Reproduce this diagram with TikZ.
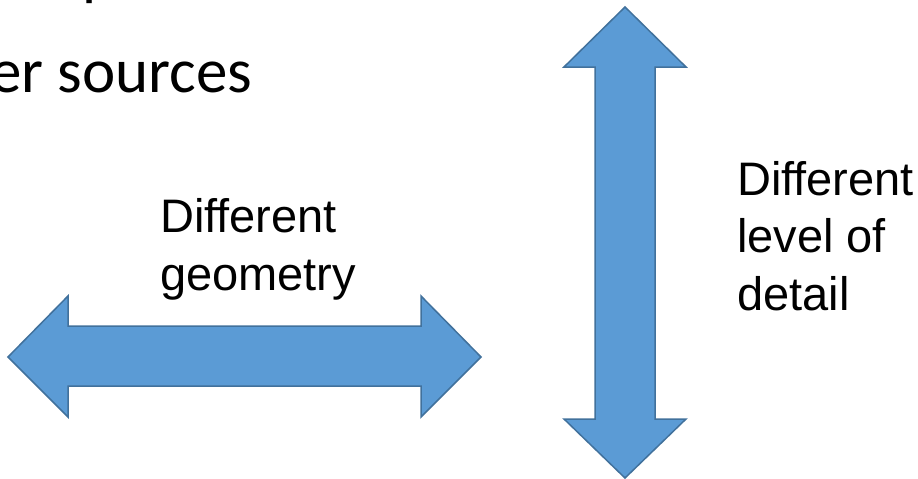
\documentclass[tikz,border=0pt]{standalone}
\usepackage{fontspec}
\setmainfont{Liberation Sans}
\newfontfamily\calib{Carlito}
\definecolor{arrowfill}{HTML}{5B9BD5}
\definecolor{arrowedge}{HTML}{41719C}
\begin{document}
\begin{tikzpicture}[x=1pt,y=-1pt,
  bigarrow/.style={fill=arrowfill,draw=arrowedge,line width=1.5pt,line join=miter},
  lbl/.style={anchor=base west,inner sep=0pt,font=\fontsize{47}{57}\selectfont},
  slidetext/.style={anchor=base west,inner sep=0pt,font=\calib\fontsize{63}{76}\selectfont}]
\fill[white] (0,0) rectangle (918,479);
\clip (0,0) rectangle (918,479);
\useasboundingbox (0,0) rectangle (918,479);
% horizontal double arrow
\draw[bigarrow] (8,357) -- (68,296) -- (68,326) -- (421,326) -- (421,296) -- (481,357)
  -- (421,417) -- (421,386) -- (68,386) -- (68,417) -- cycle;
% vertical double arrow
\draw[bigarrow] (625,7) -- (686,67) -- (655,67) -- (655,419) -- (686,419) -- (625,478)
  -- (564,419) -- (595,419) -- (595,67) -- (564,67) -- cycle;
% labels
\node[lbl] (g1) at (160,232) {Different};
\node[lbl] (g2) at (160,290) {geometry};
\node[lbl] (d1) at (737,195) {Different};
\node[lbl] (d2) at (737,252) {level of};
\node[lbl] (d3) at (737,310) {detail};
% partial slide text
\node[slidetext] (s1) at (-10,92) {er sources};
\node[slidetext] (s0) at (82,-6) {p};
\end{tikzpicture}
\end{document}
